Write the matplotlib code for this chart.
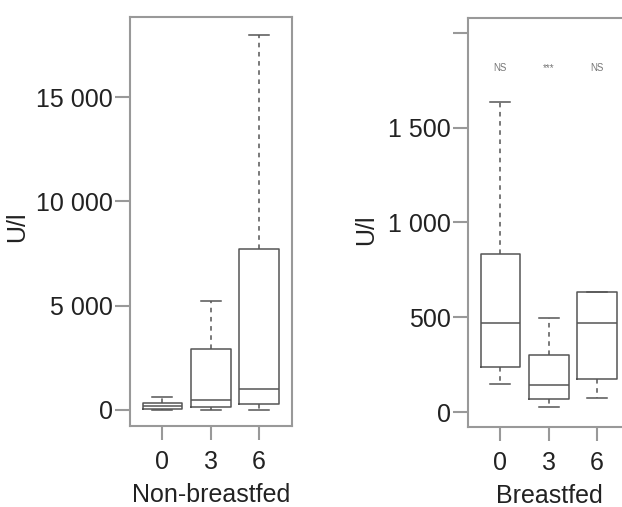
import matplotlib
matplotlib.use("Agg")
import matplotlib.pyplot as plt

plt.rcParams['font.family'] = ['Liberation Sans', 'DejaVu Sans']

months = ["0", "3", "6"]

# non-breastfed: (whisker low, Q1, median, Q3, whisker high), U/l
nb_lo = [0, 0, 0]
nb_q1 = [50, 150, 300]
nb_med = [200, 480, 1000]
nb_q3 = [350, 2900, 7700]
nb_hi = [600, 5200, 18000]

# breastfed
bf_lo = [150, 25, 75]
bf_q1 = [240, 70, 175]
bf_med = [470, 145, 470]
bf_q3 = [835, 300, 635]
bf_hi = [1635, 495, 635]
bf_sig = ["NS", "***", "NS"]
bf_sig_y = 1815

BOX = "#555555"
SPINE = "#999999"


def make_stats(lo, q1, med, q3, hi):
    return [dict(whislo=a, q1=b, med=c, q3=d, whishi=e, fliers=[])
            for a, b, c, d, e in zip(lo, q1, med, q3, hi)]


def style_axes(ax, ylim, yticks, ytlabels, xlabel):
    pos = [1, 2, 3]
    ax.set_xlim(0.33, 3.68)
    ax.set_ylim(*ylim)
    ax.set_xticks(pos)
    ax.set_xticklabels(months)
    ax.set_yticks(yticks)
    ax.set_yticklabels(ytlabels)
    for s in ax.spines.values():
        s.set_color(SPINE)
        s.set_linewidth(1.5)
    ax.tick_params(axis='y', length=11, width=1.5, color=SPINE, pad=1.5,
                   labelsize=18, labelcolor="#222222")
    ax.tick_params(axis='x', length=10, width=1.5, color=SPINE, pad=7,
                   labelsize=18, labelcolor="#222222")
    ax.set_xlabel(xlabel, fontsize=18, color="#222222", labelpad=7)


def draw_boxes(ax, stats):
    ax.bxp(stats, positions=[1, 2, 3], widths=0.82, capwidths=0.41,
           showfliers=False,
           boxprops=dict(color=BOX, linewidth=1.1),
           medianprops=dict(color=BOX, linewidth=1.1),
           whiskerprops=dict(color=BOX, linewidth=1.1, linestyle=(0, (3, 3))),
           capprops=dict(color=BOX, linewidth=1.1))


fig = plt.figure(figsize=(6.22, 5.07), dpi=100)
W, H = 622, 507

ax1 = fig.add_axes([130 / W, 1 - 426 / H, 162 / W, 409 / H])
draw_boxes(ax1, make_stats(nb_lo, nb_q1, nb_med, nb_q3, nb_hi))
t1 = [0, 5000, 10000, 15000]
style_axes(ax1, (-770, 18840), t1, [f"{v:,}".replace(",", " ") for v in t1],
           "Non-breastfed")

ax2 = fig.add_axes([468 / W, 1 - 427 / H, 162 / W, 409 / H])
draw_boxes(ax2, make_stats(bf_lo, bf_q1, bf_med, bf_q3, bf_hi))
t2 = [0, 500, 1000, 1500, 2000]
style_axes(ax2, (-79, 2079), t2,
           [f"{v:,}".replace(",", " ") if v < 2000 else "" for v in t2],
           "Breastfed")
for x, s in zip([1, 2, 3], bf_sig):
    ax2.text(x, bf_sig_y, s, ha="center", va="center", fontsize=7,
             color="#777777")

fig.text(17 / W, 1 - 227 / H, "U/l", rotation=90, ha="center", va="center",
         fontsize=18, color="#222222")
fig.text(366 / W, 1 - 230 / H, "U/l", rotation=90, ha="center", va="center",
         fontsize=18, color="#222222")

fig.savefig("out.png", dpi=100)
